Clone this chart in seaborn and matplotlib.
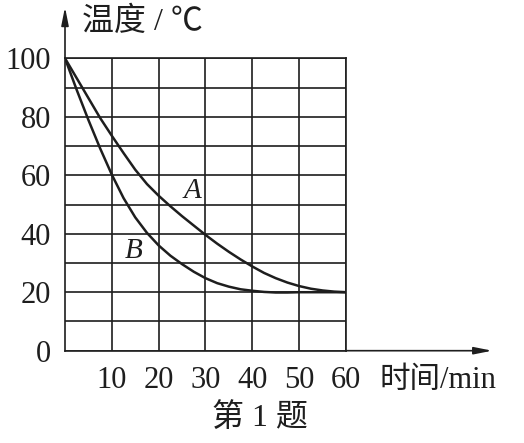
import matplotlib
matplotlib.use("Agg")
import matplotlib.pyplot as plt
import seaborn as sns
import pandas as pd

# ---- data ----
time_min = [0, 2.5, 5, 7.5, 10, 12.5, 15, 17.5, 20, 22.5, 25, 27.5, 30,
            32.5, 35, 37.5, 40, 42.5, 45, 47.5, 50, 52.5, 55, 57.5, 60]
temp_a = [100, 93.2, 86.4, 79.6, 73.5, 67.6, 61.9, 57.0, 53.0, 49.4, 46.0, 42.8, 39.6,
          36.6, 33.8, 31.2, 28.8, 26.6, 24.8, 23.3, 22.1, 21.2, 20.6, 20.2, 20]
temp_b = [100, 89.2, 78.9, 69.2, 60.2, 52.2, 45.6, 40.3, 36.0, 32.5, 29.6, 27.0, 24.8,
          23.1, 21.9, 21.0, 20.5, 20.1, 19.9, 19.9, 20, 20, 20, 20, 20]
x_ticks = [10, 20, 30, 40, 50, 60]
y_ticks = [0, 20, 40, 60, 80, 100]
y_minor = [10, 30, 50, 70, 90]
y_label = "温度 / ℃"
x_label = "时间/min"
caption = "第 1 题"

sns.set_theme(style="white")
plt.rcParams["font.family"] = ["Liberation Serif", "Noto Sans CJK SC", "DejaVu Sans"]

ink = "#1e1e1e"
df = pd.concat([
    pd.DataFrame({"t": time_min, "T": temp_a, "curve": "A"}),
    pd.DataFrame({"t": time_min, "T": temp_b, "curve": "B"}),
])

fig = plt.figure(figsize=(5.24, 4.43), dpi=100)
ax = fig.add_axes([65 / 524, 1 - 350.7 / 443, (346 - 65) / 524, (350.7 - 58.3) / 443])

sns.lineplot(data=df, x="t", y="T", hue="curve", palette={"A": ink, "B": ink},
             linewidth=1.8, legend=False, ax=ax, sort=False)

ax.set_xlim(0, 60)
ax.set_ylim(0, 100)
ax.set_xticks(x_ticks)
ax.set_yticks(y_ticks)
ax.set_yticks(y_minor, minor=True)
ax.set_xlabel("")
ax.set_ylabel("")
ax.grid(True, which="both", color=ink, linewidth=1.2)
ax.tick_params(axis="both", which="both", length=0, labelsize=22, colors=ink)
ax.tick_params(axis="x", pad=11)
ax.tick_params(axis="y", pad=10)
for s in ax.spines.values():
    s.set_color(ink)
    s.set_linewidth(1.2)

# axis arrows
arrow = dict(arrowstyle="-|>,head_length=0.9,head_width=0.18", color=ink, lw=1.2,
             shrinkA=0, shrinkB=0)
ax.annotate("", xy=(91.2, 0), xytext=(60, 0), xycoords="data", arrowprops=arrow,
            annotation_clip=False)
ax.annotate("", xy=(0, 117.5), xytext=(0, 100), xycoords="data", arrowprops=arrow,
            annotation_clip=False)

# curve labels
ax.text(27.3, 54.5, "A", fontsize=21, style="italic", color=ink, ha="center", va="center")
ax.text(14.6, 34, "B", fontsize=21, style="italic", color=ink, ha="center", va="center")

# axis titles and caption
fig.text(82 / 524, 1 - 22 / 443, y_label, fontsize=23, color=ink, ha="left", va="center")
fig.text(379 / 524, 1 - 380 / 443, x_label, fontsize=22, color=ink, ha="left", va="center")
fig.text(260 / 524, 1 - 418 / 443, caption, fontsize=23, color=ink, ha="center", va="center")

fig.savefig("out.png", dpi=100, facecolor="white")
